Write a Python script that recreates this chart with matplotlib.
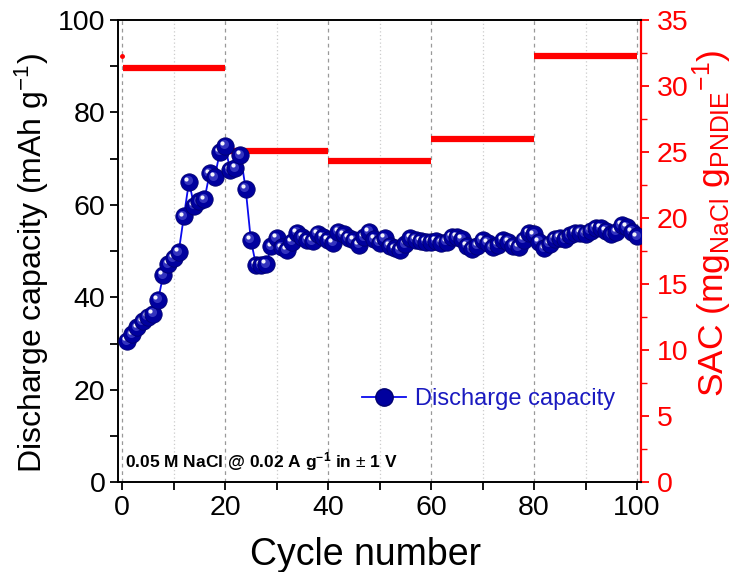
import matplotlib
matplotlib.use("Agg")
import matplotlib.pyplot as plt
from matplotlib.lines import Line2D
from matplotlib.ticker import MultipleLocator
from matplotlib.transforms import offset_copy

plt.rcParams['font.family'] = ['Liberation Sans', 'DejaVu Sans']
plt.rcParams['mathtext.fontset'] = 'custom'
plt.rcParams['mathtext.rm'] = 'Liberation Sans'
plt.rcParams['mathtext.it'] = 'Liberation Sans:italic'
plt.rcParams['mathtext.bf'] = 'Liberation Sans:bold'

# Discharge capacity per cycle (mAh g-1), cycles 1..100
cycles = list(range(1, 101))
capacity = [
    30.5, 32.0, 33.5, 34.8, 35.8, 36.5, 39.5, 44.8, 47.2, 48.5,
    49.8, 57.5, 65.0, 59.8, 60.8, 61.2, 66.8, 66.0, 71.5, 72.8,
    67.5, 68.0, 70.8, 63.5, 52.5, 47.0, 47.0, 47.2, 51.0, 52.8,
    50.8, 50.2, 52.0, 54.0, 53.0, 52.4, 52.2, 53.8, 53.0, 52.4,
    51.8, 54.2, 53.6, 52.8, 52.4, 51.4, 53.0, 54.2, 52.6, 51.8,
    52.8, 51.2, 50.6, 50.2, 51.5, 52.8, 52.5, 52.2, 52.0, 52.0,
    52.2, 51.8, 52.0, 53.0, 53.0, 52.6, 51.2, 50.4, 51.2, 52.4,
    51.8, 50.8, 51.4, 52.4, 52.0, 51.2, 50.9, 52.5, 53.9, 53.6,
    52.0, 50.6, 51.6, 52.6, 52.9, 52.6, 53.5, 54.0, 54.0, 53.8,
    54.4, 55.0, 55.0, 54.4, 53.6, 54.2, 55.6, 55.2, 54.2, 53.2,
]

# SAC (mg NaCl per g PNDIE) for each block of cycles
sac_start = [0.2, 20.5, 40, 60, 80]
sac_end = [20, 40, 60, 80, 100]
sac_level = [31.4, 25.1, 24.3, 26.0, 32.3]
sac_dot_x = [0]
sac_dot_y = [32.3]

navy = '#00009e'
red = '#ff0000'

fig = plt.figure(figsize=(7.37, 5.72), dpi=100)
ax = fig.add_axes([0.160, 0.157, 0.710, 0.808])
ax2 = ax.twinx()

# left axis: capacity
ax.set_xlim(-0.8, 100.8)
ax.set_ylim(0, 100)
ax.xaxis.set_major_locator(MultipleLocator(20))
ax.xaxis.set_minor_locator(MultipleLocator(10))
ax.yaxis.set_major_locator(MultipleLocator(20))
ax.yaxis.set_minor_locator(MultipleLocator(10))
ax.tick_params(axis='both', which='major', direction='out', length=6, width=1.3, labelsize=20.5, pad=3)
ax.tick_params(axis='both', which='minor', direction='out', length=6, width=1.3)
ax.tick_params(axis='x', top=False)
ax.grid(True, axis='x', which='major', color='#999999', linestyle=(0, (3, 3)), linewidth=0.9)
ax.grid(True, axis='x', which='minor', color='#cccccc', linestyle=(0, (1, 2)), linewidth=0.9)
ax.set_axisbelow(True)
for s in ['left', 'bottom', 'top']:
    ax.spines[s].set_linewidth(1.4)
ax.spines['right'].set_visible(False)

# right axis: SAC
ax2.set_ylim(0, 35)
ax2.yaxis.set_major_locator(MultipleLocator(5))
ax2.yaxis.set_minor_locator(MultipleLocator(2.5))
ax2.tick_params(axis='y', which='major', direction='out', length=6, width=1.3, colors=red, labelsize=20.5, pad=5)
ax2.tick_params(axis='y', which='minor', direction='out', length=4, width=1.0, colors=red)
ax2.spines['right'].set_color(red)
ax2.spines['right'].set_linewidth(1.6)
for s in ['left', 'bottom', 'top']:
    ax2.spines[s].set_visible(False)

# SAC steps drawn in the front axes (above the grid) but on the right-hand scale
ax.hlines(sac_level, sac_start, sac_end, colors=red, lw=4.5, zorder=2.5, transform=ax2.transData)
ax.plot(sac_dot_x, sac_dot_y, 'o', ms=2.5, color=red, zorder=2.5, transform=ax2.transData)

ax.plot(cycles, capacity, color='#0a0aee', lw=1.3, zorder=2)

# sphere-like markers, drawn one by one so later balls cover earlier ones
mid_tr = offset_copy(ax.transData, fig=fig, x=-1.0, y=1.0, units='points')
hi_tr = offset_copy(ax.transData, fig=fig, x=-2.0, y=2.0, units='points')
for i, (c, v) in enumerate(zip(cycles, capacity)):
    z = 3 + i * 0.01
    ax.plot([c], [v], 'o', ms=12.5, color=navy, mec='#000070', mew=0.6, zorder=z)
    ax.plot([c], [v], 'o', ms=6.5, color='#4a4acc', mew=0, alpha=0.7, transform=mid_tr, zorder=z + 0.002)
    ax.plot([c], [v], 'o', ms=3.0, color='white', mew=0, alpha=0.95, transform=hi_tr, zorder=z + 0.004)

ax.set_xlabel('Cycle number', fontsize=27)
ax.xaxis.set_label_coords(0.474, -0.118)
ax.set_ylabel('Discharge capacity (mAh g$^{-1}$)', fontsize=23)
ax.yaxis.set_label_coords(-0.128, 0.475)

ax.text(0.013, 0.02, r'0.05 M NaCl @ 0.02 A g$^{\mathbf{-1}}$ in $\pm$ 1 V', transform=ax.transAxes,
        fontsize=12.5, fontweight='bold', ha='left', va='bottom', zorder=10)

handle = Line2D([], [], color='#0a0aee', lw=1.3, marker='o', ms=12.5, mfc=navy, mec='#000070')
leg = ax.legend([handle], ['Discharge capacity'], loc='center left', bbox_to_anchor=(0.425, 0.18),
                frameon=False, fontsize=17, handlelength=1.9, handletextpad=0.35, labelcolor='#1a1ac0')
leg.set_zorder(10)

ax2.set_ylabel(r'SAC (mg$_{\mathrm{NaCl}}$ g$_{\mathrm{PNDIE}}$$^{-1}$)', fontsize=25.5, color=red)
ax2.yaxis.set_label_coords(1.094, 0.56)

ax.set_zorder(ax2.get_zorder() + 1)
ax.patch.set_visible(False)

fig.savefig('out.png', dpi=100)
